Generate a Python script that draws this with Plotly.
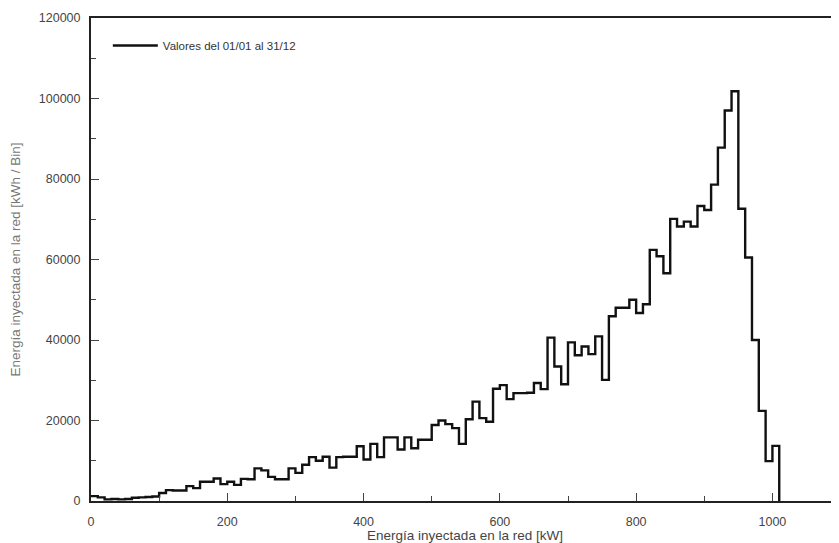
import numpy as np
import plotly.graph_objects as go

# Histogram: energy injected into grid, bins of 10 kW (bin starts 0..1000)
bin_width = 10
bin_starts = list(np.arange(0, 1001, bin_width))
energy_per_bin = [
    1200, 900, 400, 500, 400, 500, 800, 900, 1000, 1100,          # 0-90
    2000, 2700, 2600, 2600, 3700, 3200, 4800, 4800, 5600, 4200,    # 100-190
    4800, 4000, 5500, 5400, 8100, 7600, 6000, 5400, 5400, 8100,    # 200-290
    7000, 9000, 10900, 10000, 11000, 8300, 10900, 11000, 11000, 13600,  # 300-390
    10300, 14200, 10900, 15800, 15800, 12800, 15800, 13100, 15200, 15200,  # 400-490
    18900, 20000, 19100, 18100, 14200, 20300, 24700, 20600, 19700, 27900,  # 500-590
    28800, 25300, 26800, 26800, 26900, 29300, 27800, 40600, 33400, 29000,  # 600-690
    39400, 36200, 38400, 36500, 40900, 30100, 45900, 48000, 48000, 50000,  # 700-790
    46700, 48900, 62400, 60800, 56600, 70100, 68200, 69400, 68200, 73300,  # 800-890
    72300, 78600, 87800, 97000, 101800, 72600, 60500, 40000, 22400, 9900,  # 900-990
    13700,                                                          # 1000
]

legend_label = "Valores del 01/01 al 31/12"
x_title = "Energía inyectada en la red [kW]"
y_title = "Energía inyectada en la red [kWh / Bin]"

# step outline: each bin value held until next edge, closing at zero
xs = bin_starts + [bin_starts[-1] + bin_width]
ys = energy_per_bin + [0]

fig = go.Figure()
fig.add_trace(go.Scatter(
    x=xs, y=ys, mode="lines", line=dict(shape="hv", color="#111111", width=2.4),
    name=legend_label, showlegend=True,
))

axis_common = dict(
    showline=True, linecolor="#222222", linewidth=2, mirror=True,
    ticks="inside", tickcolor="#444444", tickwidth=1,
    showgrid=False, zeroline=False,
    tickfont=dict(family="Liberation Sans, Arial", size=12.5, color="#444444"),
)

# page body has an 8px margin, so the figure is offset by 8px right and down
fig.update_layout(
    width=831, height=535,
    margin=dict(l=83, r=0, t=10, b=42),
    paper_bgcolor="white", plot_bgcolor="white",
    showlegend=True,
    legend=dict(x=0.0225, y=0.943, xanchor="left", yanchor="middle",
                bgcolor="rgba(0,0,0,0)", borderwidth=0, itemwidth=45,
                font=dict(family="Liberation Sans, Arial", size=11.5, color="#333333")),
    xaxis=dict(range=[0, 1097.7], dtick=200, tick0=0, ticklen=8,
               minor=dict(dtick=100, ticks="inside", ticklen=5, tickcolor="#444444"),
               ticklabelstandoff=8,
               title=dict(text=x_title, standoff=4,
                          font=dict(family="Liberation Sans, Arial", size=13.5, color="#444444")),
               automargin=False, **axis_common),
    yaxis=dict(range=[0, 120000], dtick=20000, tick0=0, ticklen=8, tickformat="d",
               minor=dict(dtick=10000, ticks="inside", ticklen=5, tickcolor="#444444"),
               ticklabelstandoff=6,
               title=dict(text=y_title, standoff=17,
                          font=dict(family="Liberation Sans, Arial", size=13.5, color="#777777")),
               automargin=False, **axis_common),
)

fig.write_html("out.html")
